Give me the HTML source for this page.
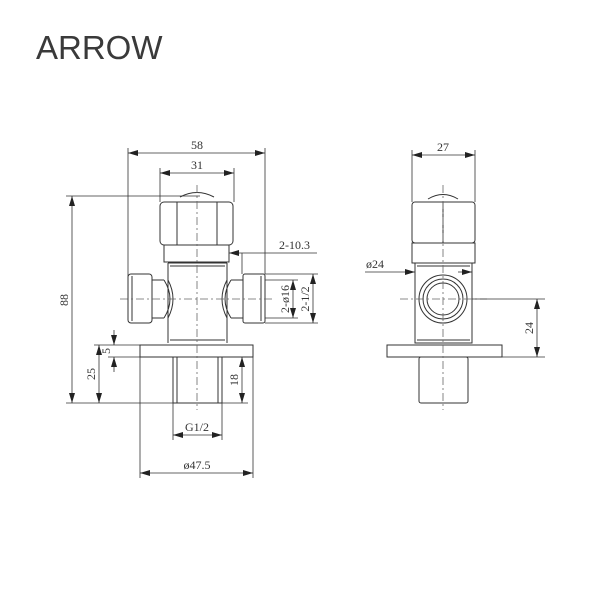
<!DOCTYPE html>
<html><head><meta charset="utf-8"><style>
html,body{margin:0;padding:0;background:#fff;width:600px;height:600px;overflow:hidden}
svg{position:absolute;left:0;top:0}
.t{font-family:"Liberation Serif",serif;font-size:12px;fill:#333}
</style></head><body>
<svg width="600" height="600" viewBox="0 0 600 600">
<defs>
<marker id="a" viewBox="0 0 10 6" refX="10" refY="3" markerWidth="10" markerHeight="6" orient="auto-start-reverse" markerUnits="userSpaceOnUse"><path d="M0,0L10,3L0,6z" fill="#222"/></marker>
</defs>
<text x="36" y="59" font-family="Liberation Sans,sans-serif" font-size="33" fill="#3a3a3a">ARROW</text>
<g fill="none" stroke="#333" stroke-width="1">
<!-- LEFT VIEW -->
<path d="M180,197 Q197,188 214,197" />
<rect x="160" y="202" width="73" height="43" rx="4"/>
<path d="M177,202 V245 M217,202 V245"/>
<rect x="164" y="245" width="65" height="17"/>
<path d="M168,263 H227 M168,263 V343 M227,263 V343 M170,266 H225 M170,340 H225"/>
<rect x="128" y="274" width="24" height="49" rx="3"/>
<path d="M132,276 V321 M152,280 H164 M152,318 H164 M164,280 Q176,299 164,318 M168,280 Q178,299 168,318"/>
<rect x="243" y="274" width="22" height="49" rx="2"/>
<path d="M261,276 V321 M231,280 H243 M231,318 H243 M231,280 Q219,299 231,318 M227,280 Q217,299 227,318"/>
<rect x="140" y="345" width="113" height="12"/>
<rect x="173" y="357" width="49" height="46"/>
<path d="M177,357 V403 M218,357 V403"/>
<!-- RIGHT VIEW -->
<path d="M428,199 Q443,190 458,199" />
<rect x="412" y="202" width="63" height="41" rx="3"/>
<path d="M443,202 V243"/>
<rect x="412" y="243" width="63" height="20"/>
<rect x="415" y="263" width="57" height="80"/>
<path d="M417,266 H470 M417,340 H470"/>
<circle cx="443" cy="299" r="24"/><circle cx="443" cy="299" r="20"/><circle cx="443" cy="299" r="16"/>
<rect x="387" y="345" width="115" height="12"/>
<rect x="419" y="357" width="49" height="46" rx="2"/>
</g>
<g stroke="#666" stroke-width="0.8" stroke-dasharray="8,3,2,3" fill="none">
<path d="M197,185 V410 M120,299 H275 M443,185 V410 M400,299 H487"/>
</g>
<g stroke="#333" stroke-width="0.8" fill="none">
<path d="M128,148 V300 M265,148 V274 M160,168 V202 M234,168 V202"/>
<path d="M128,153 H265" marker-start="url(#a)" marker-end="url(#a)"/>
<path d="M160,173 H234" marker-start="url(#a)" marker-end="url(#a)"/>
<path d="M66,196 H200 M66,403 H175 M94,345 H140 M108,357 H173 M222,357 H248 M222,403 H248"/>
<path d="M72,196 V403" marker-start="url(#a)" marker-end="url(#a)"/>
<path d="M99,345 V403" marker-start="url(#a)" marker-end="url(#a)"/>
<path d="M114,330 V345" marker-end="url(#a)"/><path d="M114,372 V357" marker-end="url(#a)"/>
<path d="M242,357 V403" marker-start="url(#a)" marker-end="url(#a)"/>
<path d="M173,403 V440 M222,403 V440 M140,357 V478 M253,357 V478"/>
<path d="M173,435 H222" marker-start="url(#a)" marker-end="url(#a)"/>
<path d="M140,473 H253" marker-start="url(#a)" marker-end="url(#a)"/>
<path d="M317,253 H229" marker-end="url(#a)"/><path d="M242,253 V274"/>
<path d="M265,274 H318 M265,323 H318 M265,280 H298 M265,318 H298"/>
<path d="M293,280 V318" marker-start="url(#a)" marker-end="url(#a)"/>
<path d="M313,274 V323" marker-start="url(#a)" marker-end="url(#a)"/>
<path d="M412,150 V202 M475,150 V202"/>
<path d="M412,155 H475" marker-start="url(#a)" marker-end="url(#a)"/>
<path d="M365,272 H415" marker-end="url(#a)"/><path d="M472,272 H458" marker-start="url(#a)"/>
<path d="M472,299 H545 M502,357 H545"/>
<path d="M537,299 V357" marker-start="url(#a)" marker-end="url(#a)"/>
</g>
<g class="t">
<text x="197" y="149" text-anchor="middle">58</text>
<text x="197" y="169" text-anchor="middle">31</text>
<text x="279" y="249">2-10.3</text>
<text x="197" y="431" text-anchor="middle">G1/2</text>
<text x="197" y="469" text-anchor="middle">ø47.5</text>
<text x="443" y="151" text-anchor="middle">27</text>
<text x="366" y="268">ø24</text>
<text transform="translate(68,300) rotate(-90)" text-anchor="middle">88</text>
<text transform="translate(95,374) rotate(-90)" text-anchor="middle">25</text>
<text transform="translate(110,351) rotate(-90)" text-anchor="middle">5</text>
<text transform="translate(238,380) rotate(-90)" text-anchor="middle">18</text>
<text transform="translate(289,299) rotate(-90)" text-anchor="middle">2-ø16</text>
<text transform="translate(309,299) rotate(-90)" text-anchor="middle">2-1/2</text>
<text transform="translate(533,328) rotate(-90)" text-anchor="middle">24</text>
</g>
</svg>
</body></html>
